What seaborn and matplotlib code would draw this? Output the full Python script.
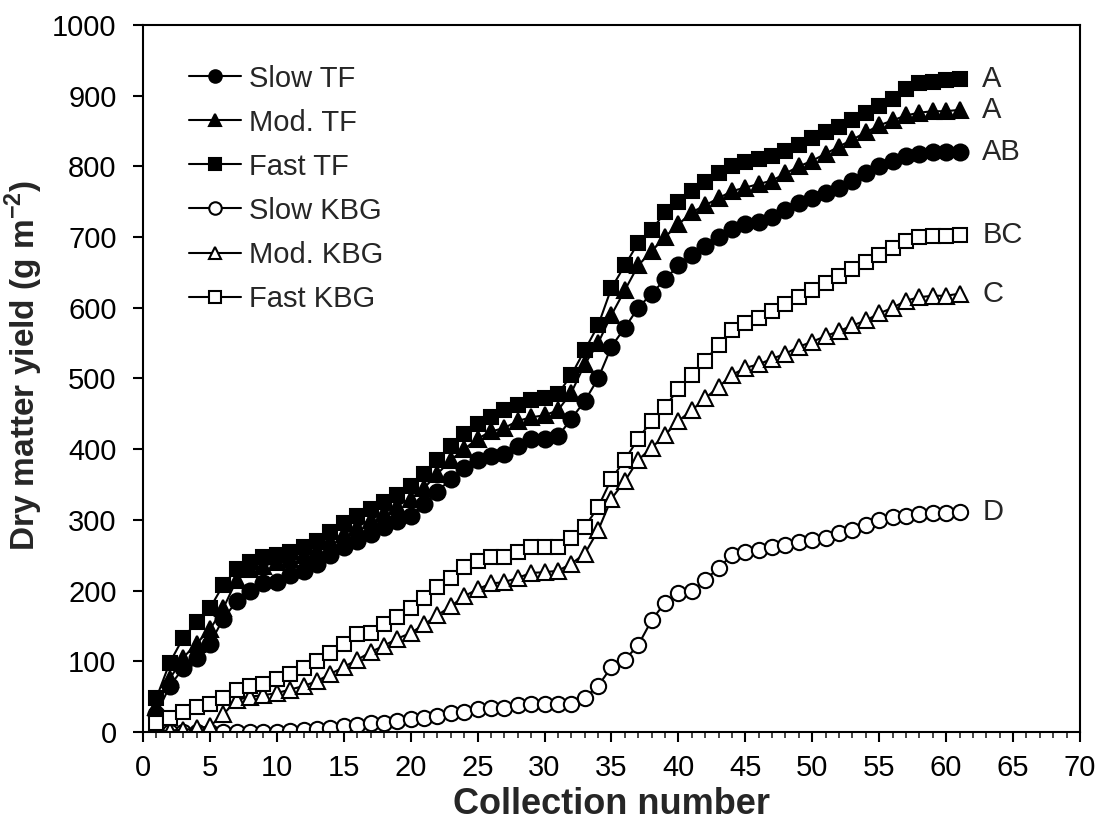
import numpy as np
import pandas as pd
import matplotlib
matplotlib.use("Agg")
import matplotlib.pyplot as plt
import seaborn as sns
from matplotlib.ticker import MultipleLocator

collection = list(range(1, 62))

slow_tf = [25, 65, 90, 105, 125, 160, 185, 200, 210, 212, 222, 228, 238, 250, 262, 270, 280, 290, 298, 305,
           323, 340, 358, 373, 385, 390, 393, 405, 415, 415, 418, 443, 468, 500, 545, 572, 600, 620, 640, 660,
           675, 688, 700, 712, 718, 722, 728, 738, 748, 755, 762, 770, 780, 790, 800, 808, 815, 818, 820, 820, 821]
mod_tf = [35, 75, 105, 125, 145, 175, 215, 230, 235, 240, 245, 250, 258, 270, 280, 290, 300, 310, 320, 330,
          345, 365, 385, 400, 415, 425, 430, 440, 445, 448, 455, 480, 520, 550, 590, 625, 660, 680, 700, 718,
          735, 745, 755, 765, 770, 775, 780, 790, 800, 808, 818, 828, 838, 848, 858, 865, 872, 876, 878, 878, 880]
fast_tf = [48, 98, 133, 155, 175, 208, 230, 240, 248, 250, 255, 262, 270, 283, 295, 305, 315, 325, 335, 348,
           365, 385, 405, 422, 435, 445, 455, 462, 470, 472, 478, 505, 540, 575, 628, 660, 692, 710, 735, 750,
           765, 778, 790, 800, 806, 810, 815, 822, 830, 840, 848, 855, 865, 875, 885, 895, 910, 918, 920, 922, 923]
slow_kbg = [0, 0, 0, 0, 0, 0, 0, 0, 0, 0, 2, 3, 4, 5, 8, 10, 12, 13, 15, 18,
            20, 22, 27, 28, 33, 34, 34, 38, 40, 40, 40, 40, 48, 65, 92, 102, 123, 158, 183, 197,
            199, 215, 232, 250, 255, 257, 261, 264, 269, 272, 274, 281, 285, 293, 300, 304, 306, 308, 310, 310, 311]
mod_kbg = [0, 2, 3, 5, 8, 25, 45, 50, 52, 55, 60, 65, 72, 82, 92, 102, 113, 122, 132, 140,
           152, 165, 178, 192, 202, 210, 212, 218, 225, 226, 228, 238, 252, 285, 330, 355, 385, 402, 420, 440,
           455, 472, 488, 505, 515, 520, 528, 535, 545, 552, 560, 567, 575, 582, 592, 600, 610, 615, 617, 617, 620]
fast_kbg = [12, 20, 28, 35, 40, 48, 60, 65, 68, 75, 82, 90, 100, 112, 125, 138, 140, 152, 163, 176,
            190, 205, 218, 233, 242, 247, 248, 255, 262, 262, 262, 275, 290, 318, 358, 385, 415, 440, 460, 485,
            505, 525, 548, 568, 578, 585, 595, 605, 615, 625, 635, 645, 655, 665, 675, 685, 695, 700, 702, 702, 703]

series_names = ["Slow TF", "Mod. TF", "Fast TF", "Slow KBG", "Mod. KBG", "Fast KBG"]
series_values = [slow_tf, mod_tf, fast_tf, slow_kbg, mod_kbg, fast_kbg]
end_letters = ["AB", "A", "A", "D", "C", "BC"]

sns.set_theme(style="ticks")
plt.rcParams['font.family'] = ['Liberation Sans', 'DejaVu Sans']
plt.rcParams['mathtext.fontset'] = 'custom'
plt.rcParams['mathtext.rm'] = 'Liberation Sans'
plt.rcParams['mathtext.bf'] = 'Liberation Sans:bold'

df = pd.DataFrame({"Collection": collection})
for n, v in zip(series_names, series_values):
    df[n] = v

fig = plt.figure(figsize=(10.99, 8.24), dpi=100)
ax = fig.add_axes([0.1301, 0.1117, 0.8526, 0.858])

styles = {
    "Slow TF": dict(marker="o", mfc="black", ms=11.5),
    "Mod. TF": dict(marker="^", mfc="black", ms=11.5),
    "Fast TF": dict(marker="s", mfc="black", ms=10.5),
    "Slow KBG": dict(marker="o", mfc="white", ms=11),
    "Mod. KBG": dict(marker="^", mfc="white", ms=11),
    "Fast KBG": dict(marker="s", mfc="white", ms=10),
}

for n in series_names:
    st = styles[n]
    sns.lineplot(data=df, x="Collection", y=n, ax=ax, color="black", lw=1.5,
                 marker=st["marker"], markerfacecolor=st["mfc"], markeredgecolor="black",
                 markeredgewidth=1.5, markersize=st["ms"], label=n)

for n, v, letter in zip(series_names, series_values, end_letters):
    ax.text(62.7, v[-1], letter, fontsize=21, va="center", ha="left")

ax.set_xlim(0, 70)
ax.set_ylim(0, 1000)
ax.xaxis.set_major_locator(MultipleLocator(5))
ax.xaxis.set_minor_locator(MultipleLocator(1))
ax.yaxis.set_major_locator(MultipleLocator(100))
ax.tick_params(axis="both", which="major", labelsize=21, length=7, width=1.5, color="black",
               labelcolor="black", direction="out")
ax.tick_params(axis="y", which="major", pad=12)
ax.tick_params(axis="x", which="major", pad=9)
ax.tick_params(axis="x", which="minor", length=4, width=1.2, direction="out")
for s in ax.spines.values():
    s.set_visible(True)
    s.set_linewidth(1.5)
    s.set_color("black")

ax.set_xlabel("Collection number", fontsize=26, fontweight="bold")
ax.set_ylabel(r"Dry matter yield (g m$^{\mathbf{-2}}$)", fontsize=24, fontweight="bold")
ax.xaxis.set_label_coords(0.5, -0.078)
ax.yaxis.set_label_coords(-0.105, 0.518)

leg = ax.legend(loc="upper left", bbox_to_anchor=(0.049, 0.944), frameon=False, fontsize=21,
                handlelength=1.8, handletextpad=0.25, labelspacing=0.55, borderaxespad=0.0,
                borderpad=0.0)
for h in leg.legend_handles:
    h.set_markersize(9)

fig.savefig("out.png", dpi=100)
